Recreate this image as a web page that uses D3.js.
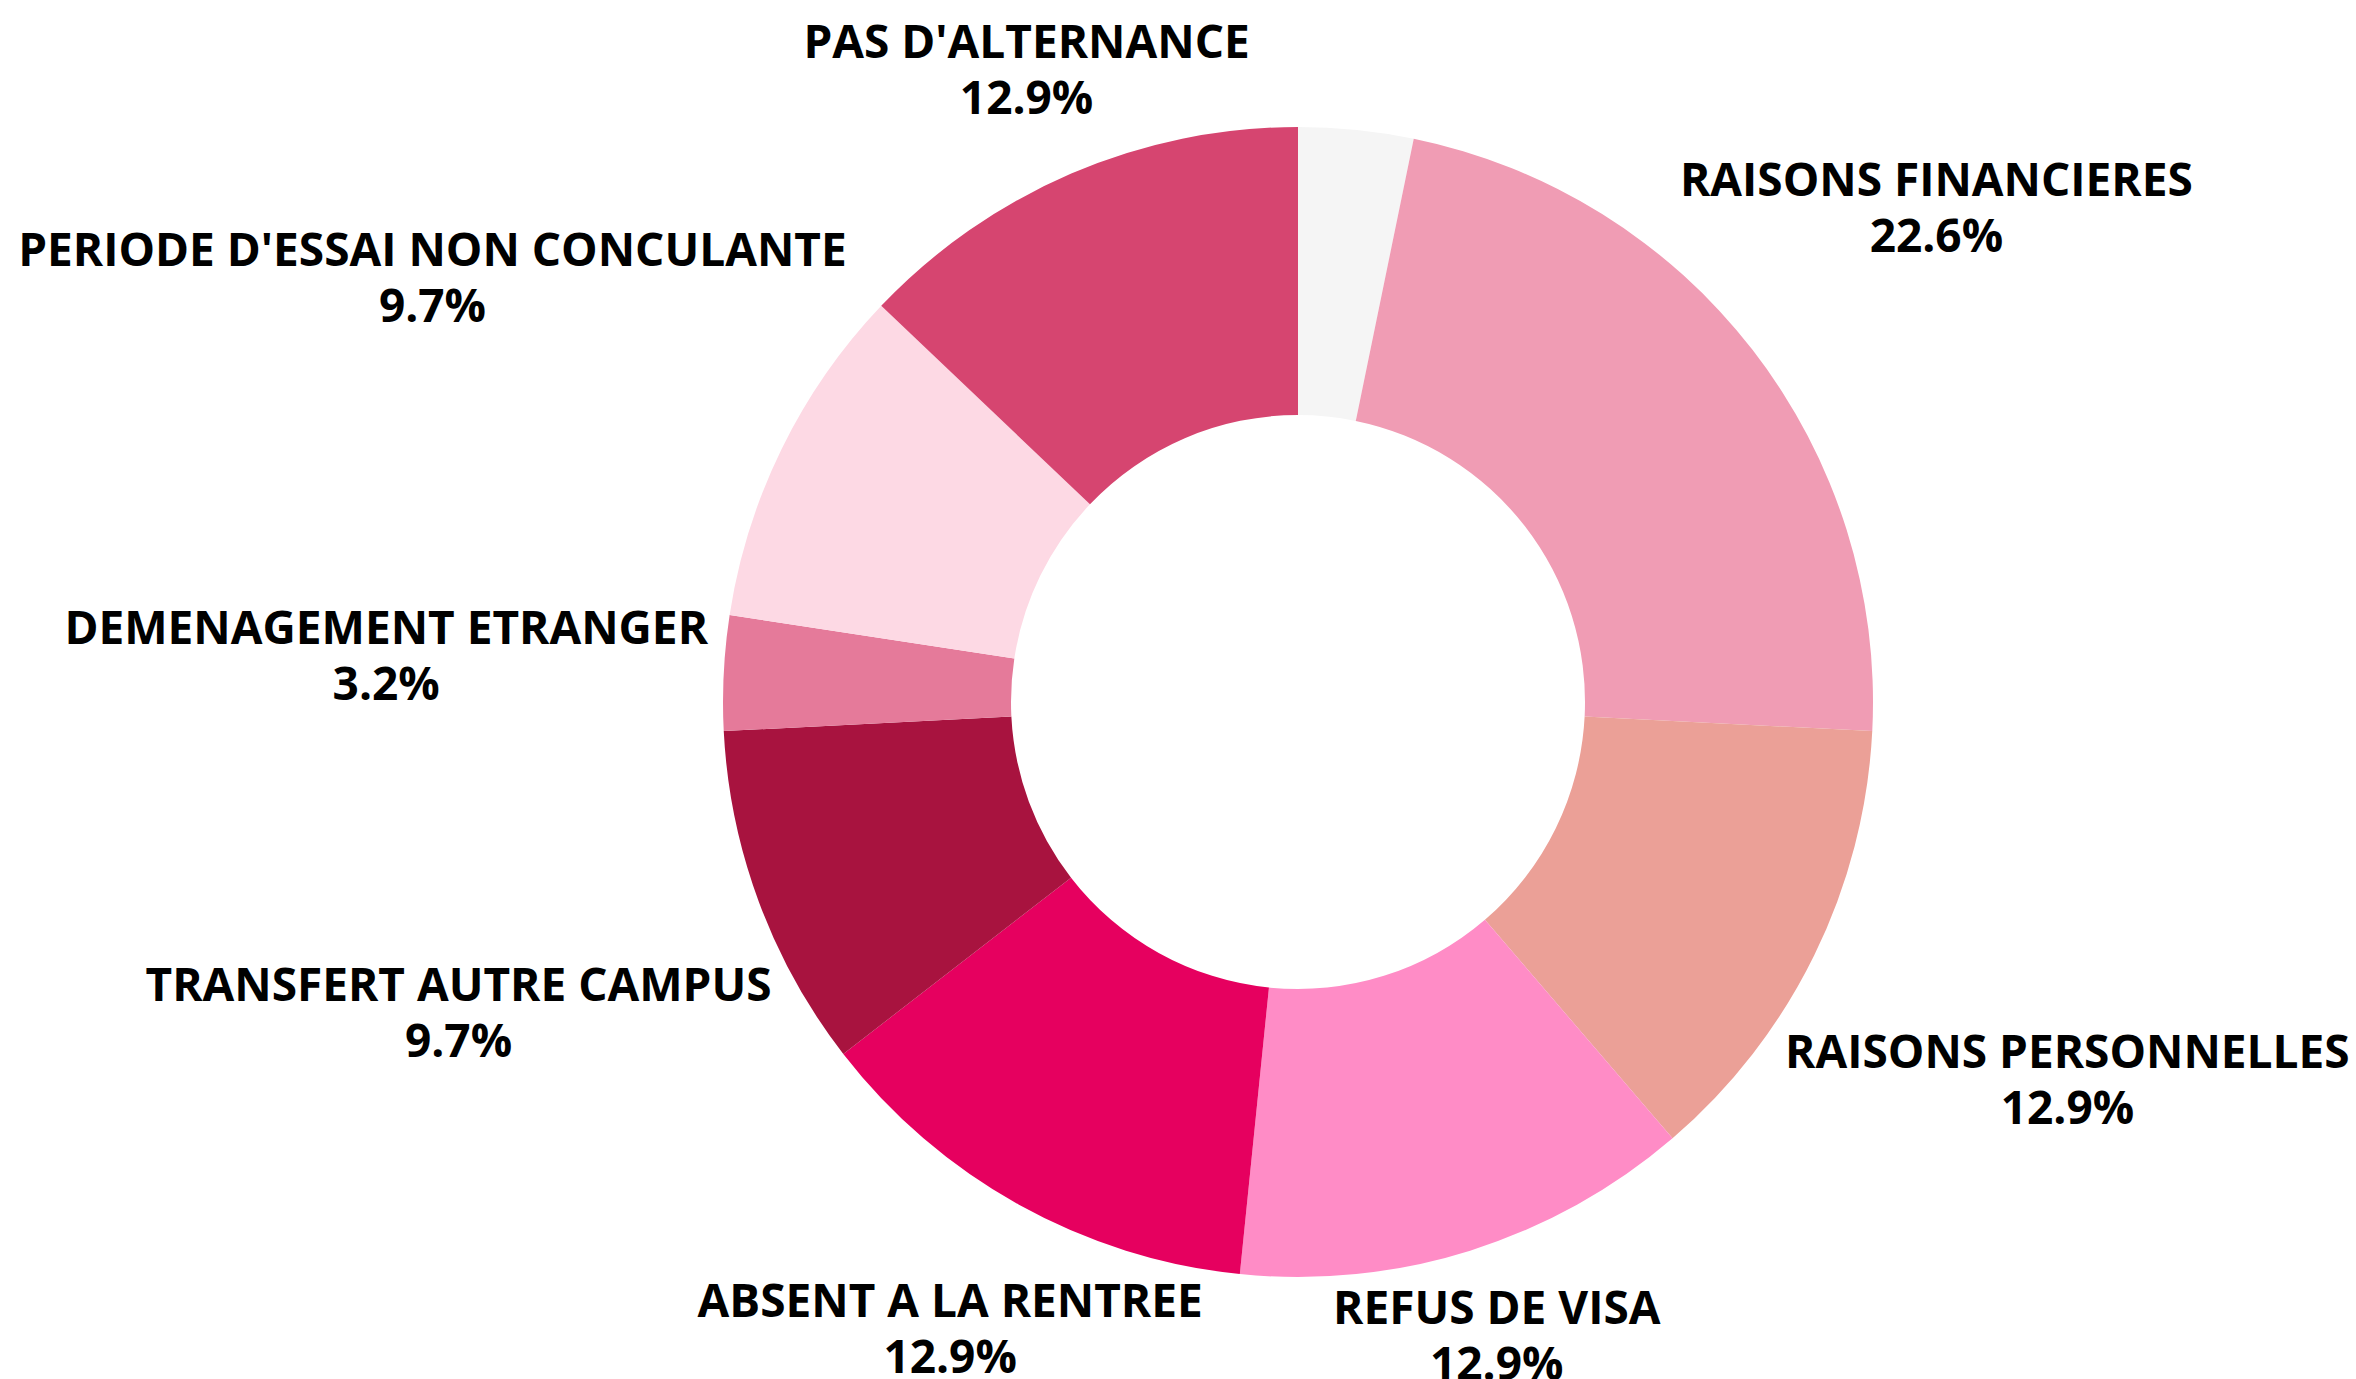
<!DOCTYPE html>
<html>
<head>
<meta charset="utf-8">
<script src="https://cdn.jsdelivr.net/npm/d3@7"></script>
<style>
  html, body { margin: 0; padding: 0; background: #fff; }
  svg text { font-family: "Open Sans", sans-serif; font-weight: 700; fill: #000; }
</style>
</head>
<body>
<div id="maViz"></div>
<script>
// categories et valeurs (effectifs), ordre horaire depuis midi
const categories = ["", "RAISONS FINANCIERES", "RAISONS PERSONNELLES", "REFUS DE VISA",
  "ABSENT A LA RENTREE", "TRANSFERT AUTRE CAMPUS", "DEMENAGEMENT ETRANGER",
  "PERIODE D'ESSAI NON CONCULANTE", "PAS D'ALTERNANCE"];
const valeurs = [1, 7, 4, 4, 4, 3, 1, 3, 4];
const couleurs = ["#f5f5f5", "#f09cb4", "#eba097", "#ff8cc6", "#e6005f",
  "#a8133f", "#e57a9a", "#fdd9e4", "#d64570"];

const width = 2356, height = 1379;
const cx = 1298, cy = 702;
const outerR = 575, innerR = 287;
const labelR = outerR + 15; // distance mini entre le centre et la boite du texte

const data = categories.map((c, i) => ({ nom: c, valeur: valeurs[i], couleur: couleurs[i] }));
const total = d3.sum(valeurs);

const svg = d3.select("#maViz").append("svg")
  .attr("width", width).attr("height", height);

const g = svg.append("g").attr("transform", `translate(${cx},${cy})`);

const pie = d3.pie().value(d => d.valeur).sort(null);
const arc = d3.arc().innerRadius(innerR).outerRadius(outerR);
const arcs = pie(data);

g.selectAll("path")
  .data(arcs)
  .join("path")
  .attr("d", arc)
  .attr("fill", d => d.data.couleur);

// étiquettes : boite sur l'angle médian, son point le plus proche du centre à labelR
const fmt = d3.format(".1f");
const labels = g.append("g");
const capH = 33, lineH = 56, hh = (capH + lineH) / 2;

arcs.filter(d => d.data.nom !== "").forEach(d => {
  const t = labels.append("text").attr("text-anchor", "middle").style("font-size", "46px");
  const l1 = t.append("tspan").attr("x", 0).attr("y", -hh + capH).text(d.data.nom);
  const l2 = t.append("tspan").attr("x", 0).attr("y", hh).text(fmt(d.data.valeur / total * 100) + "%");
  const hw = Math.max(l1.node().getComputedTextLength(), l2.node().getComputedTextLength()) / 2;
  const a = (d.startAngle + d.endAngle) / 2;
  const s = Math.sin(a), c = Math.cos(a);
  const dist = r => Math.hypot(Math.max(0, r * Math.abs(s) - hw), Math.max(0, r * Math.abs(c) - hh));
  let lo = 0, hi = 3000;
  for (let k = 0; k < 60; k++) {
    const mid = (lo + hi) / 2;
    if (dist(mid) < labelR) lo = mid; else hi = mid;
  }
  const r = (lo + hi) / 2;
  t.attr("transform", `translate(${r * s},${-r * c})`);
});
</script>
</body>
</html>
